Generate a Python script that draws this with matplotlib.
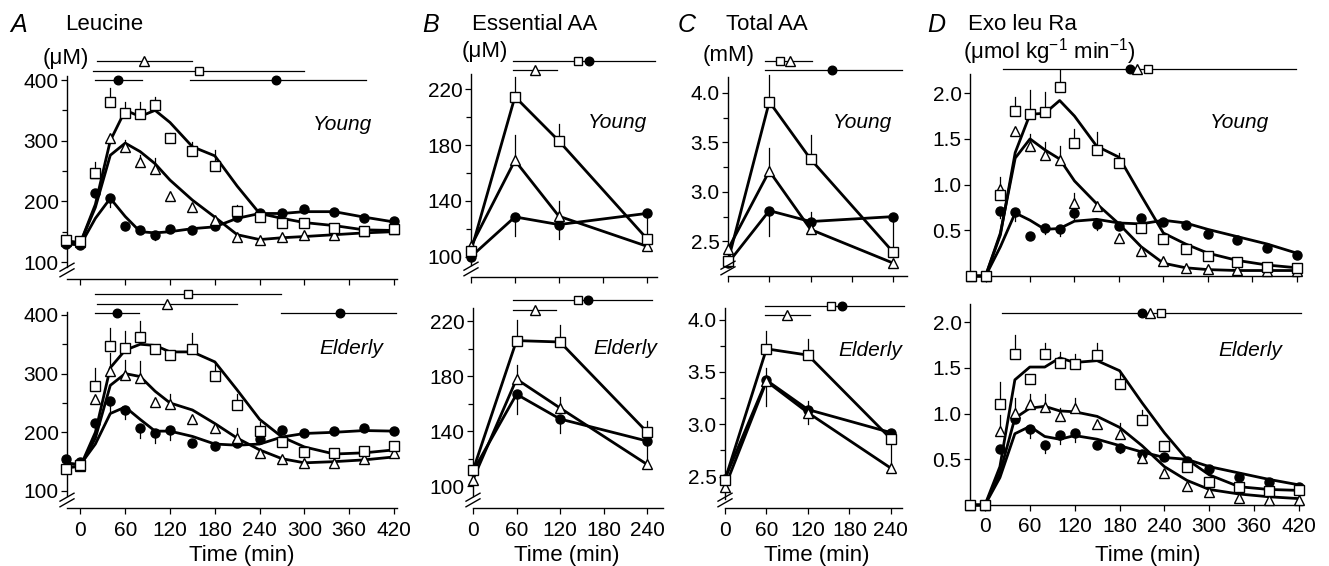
import matplotlib
matplotlib.use('Agg')
import matplotlib.pyplot as plt
from matplotlib.lines import Line2D
import numpy as np

plt.rcParams['font.family'] = ['Liberation Sans', 'DejaVu Sans']
plt.rcParams['mathtext.fontset'] = 'custom'
plt.rcParams['mathtext.rm'] = 'Liberation Sans'
plt.rcParams['mathtext.it'] = 'Liberation Sans:italic'

# ---------------- data ----------------
t_long = [-20, 0, 20, 40, 60, 80, 100, 120, 150, 180, 210, 240, 270, 300, 340, 380, 420]
t_short = [0, 60, 120, 240]

# A: Leucine (uM) - young
leuY_sq = [137, 135, 246, 363, 346, 344, 359, 305, 283, 258, 184, 174, 164, 164, 156, 151, 155]
leuY_sq_fit = [135, 132, 195, 300, 350, 340, 350, 330, 290, 275, 225, 180, 172, 165, 160, 153, 152]
leuY_sq_err = [0, 0, 19, 23, 17, 20, 13, 8, 14, 26, 10, 0, 0, 0, 0, 0, 0]
leuY_tri = [135, 133, 246, 305, 290, 265, 253, 208, 190, 170, 141, 137, 142, 144, 144, 151, 154]
leuY_tri_fit = [133, 132, 190, 276, 296, 282, 262, 235, 202, 174, 145, 137, 140, 142, 145, 148, 150]
leuY_tri_err = [0, 0, 0, 0, 11, 11, 18, 0, 0, 0, 0, 0, 0, 0, 0, 0, 0]
leuY_ci = [130, 128, 214, 205, 160, 152, 145, 155, 153, 160, 175, 180, 180, 187, 182, 172, 167]
leuY_ci_fit = [130, 128, 172, 205, 175, 150, 148, 150, 155, 158, 172, 180, 180, 183, 183, 174, 166]
leuY_ci_err = [0, 0, 0, -15, -8, 0, -8, -5, -7, 0, -8, 0, 0, 0, -5, 0, 0]
# A: Leucine - elderly
leuE_sq = [138, 144, 279, 347, 343, 362, 342, 332, 342, 296, 247, 202, 183, 167, 165, 168, 176]
leuE_sq_fit = [140, 142, 200, 310, 340, 350, 348, 337, 337, 320, 272, 222, 192, 175, 163, 165, 170]
leuE_sq_err = [0, 0, 30, 30, 29, 28, 0, 0, 27, 21, 19, 16, 0, 0, 0, 0, 0]
leuE_tri = [140, 142, 256, 305, 298, 293, 252, 248, 222, 207, 190, 164, 154, 148, 148, 155, 164]
leuE_tri_fit = [140, 142, 190, 280, 300, 295, 270, 250, 238, 215, 190, 170, 155, 148, 150, 153, 158]
leuE_tri_err = [0, 0, 0, 30, 26, 28, 0, 18, 0, 0, 18, 0, 0, 0, 0, 0, 0]
leuE_ci = [155, 150, 216, 254, 238, 208, 199, 204, 182, 177, 181, 189, 204, 199, 202, 208, 202]
leuE_ci_fit = [148, 145, 180, 232, 243, 222, 202, 202, 193, 180, 178, 180, 192, 198, 200, 203, 202]
leuE_ci_err = [0, 0, 0, -20, -16, -18, -18, -17, 0, -8, -5, 0, 0, 0, 0, 0, 0]

# B: Essential AA (uM)
eaaY_sq = [104, 214.7, 183, 113]
eaaY_sq_err = [0, 14, 12, 0]
eaaY_tri = [107.5, 169, 129, 107.5]
eaaY_tri_err = [2, 18, 11, 0]
eaaY_ci = [100, 128.5, 123, 131]
eaaY_ci_err = [0, -14, -10, -18]
eaaE_sq = [111.6, 206, 205, 139.5]
eaaE_sq_err = [0, 15, 12, 8]
eaaE_tri = [105, 178, 157, 116]
eaaE_tri_err = [0, 10, 8, 0]
eaaE_ci = [111, 167, 149, 133]
eaaE_ci_err = [0, -14, -10, -15]

# C: Total AA (mM)
taaY_sq = [2.30, 3.91, 3.33, 2.39]
taaY_sq_err = [0, 0.27, 0.24, 0]
taaY_tri = [2.42, 3.21, 2.62, 2.28]
taaY_tri_err = [0.05, 0.23, 0, 0]
taaY_ci = [2.28, 2.81, 2.70, 2.75]
taaY_ci_err = [0, -0.26, 0.10, -0.36]
taaE_sq = [2.47, 3.72, 3.66, 2.86]
taaE_sq_err = [0, 0.17, 0.15, -0.25]
taaE_tri = [2.40, 3.41, 3.11, 2.58]
taaE_tri_err = [0, 0.13, 0.11, 0]
taaE_ci = [2.48, 3.42, 3.14, 2.92]
taaE_ci_err = [0, -0.25, -0.14, 0]

# D: Exo leu Ra (umol/kg/min)
raY_sq = [0, 0, 0.89, 1.81, 1.77, 1.79, 2.07, 1.45, 1.38, 1.24, 0.53, 0.40, 0.30, 0.22, 0.15, 0.10, 0.09]
raY_sq_fit = [0, 0, 0.45, 1.35, 1.77, 1.78, 1.92, 1.75, 1.42, 1.30, 0.88, 0.47, 0.35, 0.25, 0.17, 0.12, 0.09]
raY_sq_err = [0, 0, 0, 0.15, 0.27, 0.22, 0.18, 0.16, 0.19, 0.11, 0, 0, 0, 0, 0, 0, 0]
raY_tri = [0, 0, 0.95, 1.59, 1.42, 1.32, 1.27, 0.80, 0.77, 0.42, 0.27, 0.16, 0.09, 0.08, 0.07, 0.05, 0.05]
raY_tri_fit = [0, 0, 0.47, 1.29, 1.50, 1.38, 1.28, 1.04, 0.79, 0.57, 0.32, 0.14, 0.09, 0.07, 0.06, 0.06, 0.06]
raY_tri_err = [0, 0, 0.13, 0, 0.13, 0.15, 0.15, 0.11, 0, 0, 0, 0, 0, 0, 0, 0, 0]
raY_ci = [0, 0, 0.71, 0.70, 0.44, 0.53, 0.51, 0.69, 0.57, 0.55, 0.63, 0.59, 0.56, 0.46, 0.39, 0.31, 0.23]
raY_ci_fit = [0, 0, 0.32, 0.69, 0.61, 0.51, 0.52, 0.60, 0.62, 0.58, 0.57, 0.61, 0.58, 0.51, 0.43, 0.35, 0.25]
raY_ci_err = [0, 0, -0.07, -0.10, 0, -0.07, -0.07, -0.08, -0.07, 0, 0, 0, 0, 0, 0, 0, 0]
raE_sq = [0, 0, 1.11, 1.65, 1.38, 1.65, 1.55, 1.54, 1.64, 1.32, 0.93, 0.65, 0.42, 0.25, 0.20, 0.15, 0.16]
raE_sq_fit = [0, 0, 0.42, 1.37, 1.51, 1.51, 1.61, 1.56, 1.58, 1.47, 1.12, 0.79, 0.50, 0.33, 0.20, 0.17, 0.16]
raE_sq_err = [0, 0, 0.24, 0.21, 0, 0.12, 0.12, 0.11, 0.13, 0.13, 0.11, 0, 0, 0, 0, 0, 0]
raE_tri = [0, 0, 0.81, 1.01, 1.11, 1.07, 0.97, 1.06, 0.89, 0.78, 0.51, 0.35, 0.21, 0.14, 0.08, 0.05, 0.05]
raE_tri_fit = [0, 0, 0.35, 0.95, 1.06, 1.08, 1.03, 1.02, 0.97, 0.85, 0.65, 0.42, 0.27, 0.17, 0.12, 0.09, 0.07]
raE_tri_err = [0, 0, 0.18, 0.16, 0.10, 0.14, 0.09, 0.11, 0, 0.12, 0, 0, 0, 0, 0, 0, 0]
raE_ci = [0, 0, 0.61, 0.94, 0.83, 0.66, 0.77, 0.79, 0.66, 0.62, 0.56, 0.52, 0.48, 0.39, 0.31, 0.25, 0.20]
raE_ci_fit = [0, 0, 0.30, 0.78, 0.86, 0.75, 0.72, 0.76, 0.72, 0.65, 0.58, 0.52, 0.50, 0.42, 0.35, 0.28, 0.22]
raE_ci_err = [0, 0, 0, 0, -0.10, -0.09, -0.10, -0.10, 0, -0.05, 0, 0, 0, 0, 0, 0, 0]

# significance bars: (y, t_start, t_end, [(t_marker, marker), ...])
sigA_young = [(431, 22, 149, [(85, '^')]), (415, 17, 300, [(159, 's')]),
              (400, 20, 82, [(50, 'o')]), (400, 147, 383, [(262, 'o')])]
sigA_old = [(436, 20, 268, [(144, 's')]), (419, 22, 210, [(116, '^')]),
            (403, 20, 78, [(49, 'o')]), (403, 269, 422, [(348, 'o')])]
sigB_young = [(240.4, 57, 251, [(146, 's'), (161, 'o')]), (233.9, 57, 117, [(87, '^')])]
sigB_old = [(235.3, 55, 247, [(145, 's'), (158, 'o')]), (228.5, 55, 115, [(86, '^')])]
sigC_young = [(4.32, 54, 122, [(76, 's'), (90, '^')]), (4.23, 54, 253, [(151, 'o')])]
sigC_old = [(4.13, 58, 259, [(153, 's'), (169, 'o')]), (4.04, 58, 123, [(90, '^')])]
sigD_young = [(2.27, 24, 419, [(195, 'o'), (205, '^'), (219, 's')])]
sigD_old = [(2.10, 23, 423, [(210, 'o'), (221, '^'), (235, 's')])]

# ---------------- figure ----------------
W, H = 1329, 566
fig = plt.figure(figsize=(W / 100, H / 100), dpi=100)


def rect(x0, x1, yt, yb):
    return [x0 / W, 1 - yb / H, (x1 - x0) / W, (yb - yt) / H]


MK = {
    's': dict(marker='s', ms=6.5, mfc='white', mec='black', mew=1.0),
    '^': dict(marker='^', ms=7.5, mfc='white', mec='black', mew=1.0),
    'o': dict(marker='o', ms=6.5, mfc='black', mec='black', mew=1.0),
}


def series(ax, t, vals, fit, err, mk):
    if fit is not None:
        ax.plot(t, fit, color='black', lw=2.0, zorder=2, clip_on=False,
                solid_joinstyle='round')
    for ti, v, e in zip(t, vals, err):
        if e != 0:
            ax.plot([ti, ti], [v, v + e], color='black', lw=0.9, zorder=1,
                    clip_on=False)
    ax.plot(t, vals, ls='none', zorder=4, clip_on=False, **MK[mk])


def sigbars(ax, bars):
    for y, a, b, mks in bars:
        ax.plot([a, b], [y, y], color='black', lw=0.9, zorder=3, clip_on=False)
        for tm, m in mks:
            kw = dict(MK[m])
            kw['ms'] = kw['ms'] * 0.95
            ax.plot([tm], [y], ls='none', zorder=4, clip_on=False, **kw)


def style(ax, xlim, ylim, xt, yt, ymin, ytl=None, xlabels=True, spine_bottom=None):
    ax.set_xlim(*xlim)
    ax.set_ylim(*ylim)
    for s in ('top', 'right'):
        ax.spines[s].set_visible(False)
    for s in ('left', 'bottom'):
        ax.spines[s].set_linewidth(1.0)
    if spine_bottom is not None:
        ax.spines['left'].set_bounds(spine_bottom, ylim[1])
    ax.set_xticks(xt)
    ax.set_yticks(yt)
    if ytl is not None:
        ax.set_yticklabels(ytl)
    if ymin is not None:
        ax.set_yticks(ymin, minor=True)
    ax.tick_params(axis='both', which='major', direction='out', length=4,
                   width=0.9, labelsize=15, pad=2)
    ax.tick_params(axis='y', which='minor', direction='out', length=3.5, width=0.9)
    ax.tick_params(axis='x', pad=5)
    if not xlabels:
        ax.set_xticklabels([])
    ax.patch.set_visible(False)


def brk(xpx, ypx):
    for d in (-2.8, 2.8):
        fig.add_artist(Line2D([(xpx - 7) / W, (xpx + 7) / W],
                              [1 - (ypx + d + 4) / H, 1 - (ypx + d - 4) / H],
                              transform=fig.transFigure, color='black', lw=1.0))


def ftext(xpx, ypx, s, **kw):
    fig.text(xpx / W, 1 - ypx / H, s, **kw)


x_long = [0, 60, 120, 180, 240, 300, 360, 420]
x_short = [0, 60, 120, 180, 240]

# ---- Panel A ----
axA1 = fig.add_axes(rect(67, 397, 76, 279))
series(axA1, t_long, leuY_ci, leuY_ci_fit, leuY_ci_err, 'o')
series(axA1, t_long, leuY_tri, leuY_tri_fit, leuY_tri_err, '^')
series(axA1, t_long, leuY_sq, leuY_sq_fit, leuY_sq_err, 's')
sigbars(axA1, sigA_young)
style(axA1, (-18, 424), (72, 406.6), x_long, [100, 200, 300, 400], [150, 250, 350],
      xlabels=False, spine_bottom=92)
brk(67, 270)

axA2 = fig.add_axes(rect(67, 397, 312, 508))
series(axA2, t_long, leuE_ci, leuE_ci_fit, leuE_ci_err, 'o')
series(axA2, t_long, leuE_tri, leuE_tri_fit, leuE_tri_err, '^')
series(axA2, t_long, leuE_sq, leuE_sq_fit, leuE_sq_err, 's')
sigbars(axA2, sigA_old)
style(axA2, (-18, 424), (71, 405), x_long, [100, 200, 300, 400], [150, 250, 350],
      spine_bottom=91)
brk(67, 500)

# ---- Panel B ----
axB1 = fig.add_axes(rect(471, 657, 74, 277))
series(axB1, t_short, eaaY_ci, eaaY_ci, eaaY_ci_err, 'o')
series(axB1, t_short, eaaY_tri, eaaY_tri, eaaY_tri_err, '^')
series(axB1, t_short, eaaY_sq, eaaY_sq, eaaY_sq_err, 's')
sigbars(axB1, sigB_young)
style(axB1, (0, 254), (85.4, 231), x_short, [100, 140, 180, 220], [120, 160, 200],
      xlabels=False, spine_bottom=94)
brk(471, 269)

axB2 = fig.add_axes(rect(473, 663, 308, 508))
series(axB2, t_short, eaaE_ci, eaaE_ci, eaaE_ci_err, 'o')
series(axB2, t_short, eaaE_tri, eaaE_tri, eaaE_tri_err, '^')
series(axB2, t_short, eaaE_sq, eaaE_sq, eaaE_sq_err, 's')
sigbars(axB2, sigB_old)
style(axB2, (0, 262), (84.3, 229.7), x_short, [100, 140, 180, 220], [120, 160, 200],
      spine_bottom=93)
brk(473, 500)

# ---- Panel C ----
axC1 = fig.add_axes(rect(728, 907, 77, 276))
series(axC1, t_short, taaY_ci, taaY_ci, taaY_ci_err, 'o')
series(axC1, t_short, taaY_tri, taaY_tri, taaY_tri_err, '^')
series(axC1, t_short, taaY_sq, taaY_sq, taaY_sq_err, 's')
sigbars(axC1, sigC_young)
style(axC1, (0, 260), (2.15, 4.16), x_short, [2.5, 3.0, 3.5, 4.0], [2.75, 3.25, 3.75],
      ytl=['2.5', '3.0', '3.5', '4.0'], xlabels=False, spine_bottom=2.24)
brk(728, 268)

axC2 = fig.add_axes(rect(725, 902, 308, 508))
series(axC2, t_short, taaE_ci, taaE_ci, taaE_ci_err, 'o')
series(axC2, t_short, taaE_tri, taaE_tri, taaE_tri_err, '^')
series(axC2, t_short, taaE_sq, taaE_sq, taaE_sq_err, 's')
sigbars(axC2, sigC_old)
style(axC2, (0, 256), (2.20, 4.11), x_short, [2.5, 3.0, 3.5, 4.0], [2.75, 3.25, 3.75],
      ytl=['2.5', '3.0', '3.5', '4.0'], spine_bottom=2.29)
brk(725, 500)

# ---- Panel D ----
axD1 = fig.add_axes(rect(970, 1299, 74, 276))
series(axD1, t_long, raY_ci, raY_ci_fit, raY_ci_err, 'o')
series(axD1, t_long, raY_tri, raY_tri_fit, raY_tri_err, '^')
series(axD1, t_long, raY_sq, raY_sq_fit, raY_sq_err, 's')
sigbars(axD1, sigD_young)
style(axD1, (-21, 423), (0.0, 2.21), x_long, [0.5, 1.0, 1.5, 2.0], None,
      ytl=['0.5', '1.0', '1.5', '2.0'], xlabels=False)

axD2 = fig.add_axes(rect(970, 1302, 304, 505))
series(axD2, t_long, raE_ci, raE_ci_fit, raE_ci_err, 'o')
series(axD2, t_long, raE_tri, raE_tri_fit, raE_tri_err, '^')
series(axD2, t_long, raE_sq, raE_sq_fit, raE_sq_err, 's')
sigbars(axD2, sigD_old)
style(axD2, (-20, 424), (0.0, 2.2), x_long, [0.5, 1.0, 1.5, 2.0], None,
      ytl=['0.5', '1.0', '1.5', '2.0'])

# ---- texts ----
TS = 16
ftext(10, 25, 'A', fontsize=18, style='italic', va='center', ha='left')
ftext(65, 25, 'Leucine', fontsize=TS, va='center', ha='left')
ftext(43, 58, '(μM)', fontsize=TS, va='center', ha='left')
ftext(422, 25, 'B', fontsize=18, style='italic', va='center', ha='left')
ftext(472, 25, 'Essential AA', fontsize=TS, va='center', ha='left')
ftext(462, 52, '(μM)', fontsize=TS, va='center', ha='left')
ftext(678, 25, 'C', fontsize=18, style='italic', va='center', ha='left')
ftext(726, 25, 'Total AA', fontsize=TS, va='center', ha='left')
ftext(703, 55, '(mM)', fontsize=TS, va='center', ha='left')
ftext(927, 25, 'D', fontsize=18, style='italic', va='center', ha='left')
ftext(968, 25, 'Exo leu Ra', fontsize=TS, va='center', ha='left')
ftext(963, 52, r'(μmol kg$^{\mathregular{-1}}$ min$^{\mathregular{-1}}$)', fontsize=TS,
      va='center', ha='left')

for x, y in [(342, 124), (617, 123), (862, 123), (1239, 123)]:
    ftext(x, y, 'Young', fontsize=15, style='italic', ha='center', va='center')
for x, y in [(351, 348), (625, 348), (870, 350), (1250, 350)]:
    ftext(x, y, 'Elderly', fontsize=15, style='italic', ha='center', va='center')

for x in (242, 567, 817, 1148):
    ftext(x, 556, 'Time (min)', fontsize=TS, ha='center', va='center')

fig.savefig('out.png', dpi=100)
